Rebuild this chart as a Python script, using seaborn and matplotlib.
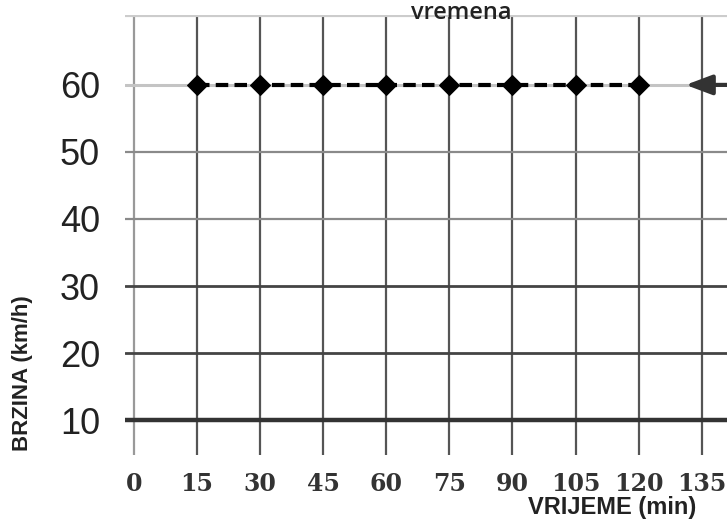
import numpy as np
import pandas as pd
import seaborn as sns
import matplotlib.pyplot as plt

# data
vrijeme = [15, 30, 45, 60, 75, 90, 105, 120]
brzina = [60, 60, 60, 60, 60, 60, 60, 60]
x_ticks = [0, 15, 30, 45, 60, 75, 90, 105, 120, 135]
y_ticks = [10, 20, 30, 40, 50, 60]

df = pd.DataFrame({'VRIJEME': vrijeme, 'BRZINA': brzina})

sns.set_style("white")
plt.rcParams['font.family'] = ['Liberation Sans', 'DejaVu Sans']

fig = plt.figure(figsize=(7.27, 5.23), dpi=100)
ax = fig.add_axes([0.172, 0.13, 0.828, 0.841])

# grid, drawn by hand so each line can have its own shade
for x in x_ticks:
    ax.axvline(x, color='#555555' if x > 0 else '#999999', lw=1.6, zorder=1)
grid_col = {10: '#333333', 20: '#444444', 30: '#444444', 40: '#8a8a8a',
            50: '#8a8a8a', 60: '#c4c4c4'}
grid_lw = {10: 3.2, 20: 2.0, 30: 2.0, 40: 1.6, 50: 1.6, 60: 2.2}
for y in y_ticks:
    ax.axhline(y, color=grid_col[y], lw=grid_lw[y], zorder=1)
ax.axhline(70.4, color='#cccccc', lw=3, zorder=1)

sns.lineplot(data=df, x='VRIJEME', y='BRZINA', ax=ax, color='black',
             linestyle=(0, (3, 1.5)), lw=3, marker='D', markersize=10,
             markeredgecolor='black', zorder=3)

# arrow on the right pointing at the 60 line
ax.annotate('', xy=(130.5, 60), xytext=(143, 60),
            arrowprops=dict(arrowstyle='-|>,head_length=1.6,head_width=0.6',
                            color='#333333', lw=3),
            annotation_clip=False, zorder=4)

ax.set_xlim(-2.1, 141)
ax.set_ylim(4.8, 70.4)
ax.set_xticks(x_ticks)
ax.set_yticks(y_ticks)
ax.set_xticklabels([str(t) for t in x_ticks], family='DejaVu Serif',
                   fontsize=17, fontweight='bold', color='#333333')
ax.set_yticklabels([str(t) for t in y_ticks], fontsize=26, color='#222222')
ax.tick_params(axis='x', length=0, pad=12)
ax.tick_params(axis='y', length=0, pad=18)
for s in ax.spines.values():
    s.set_visible(False)

ax.set_xlabel('')
ax.set_ylabel('')
fig.text(0.031, 0.287, 'BRZINA (km/h)', rotation=90, ha='center', va='center',
         fontsize=16, fontweight='bold', color='#222222')
fig.text(0.842, 0.029, 'VRIJEME (min)', ha='center', va='center',
         fontsize=17, fontweight='bold', color='#222222')
fig.text(0.635, 0.975, 'vremena', ha='center', va='center',
         family='Open Sans', fontsize=17, fontweight='semibold', color='#222222')

plt.savefig('out.png', dpi=100)
